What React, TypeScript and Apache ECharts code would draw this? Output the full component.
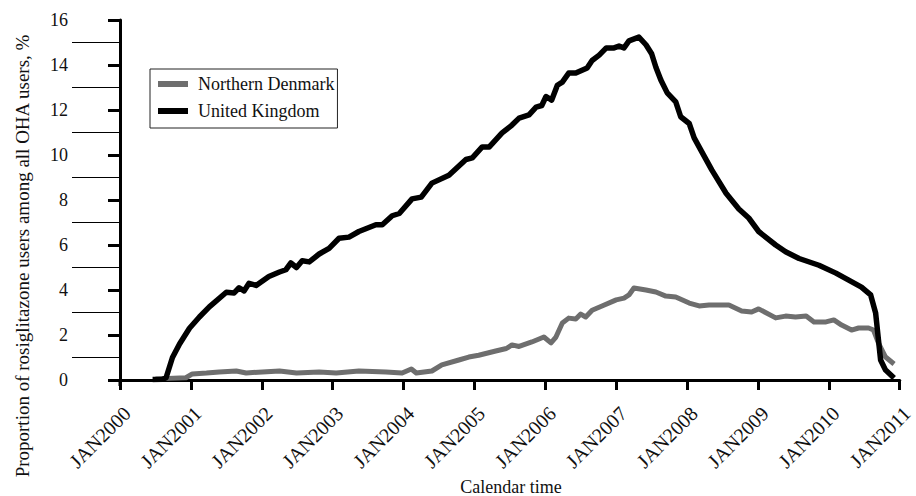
import React, { useEffect, useRef } from "react";
import * as echarts from "echarts";

const seriesNames = ["Northern Denmark", "United Kingdom"];

// [decimal year, % of OHA users]
const denmark: [number, number][] = [
  [2000.5, 0.05], [2000.93, 0.1], [2001.02, 0.27], [2001.22, 0.31], [2001.4, 0.36],
  [2001.64, 0.4], [2001.78, 0.31], [2002.01, 0.36], [2002.25, 0.4], [2002.49, 0.31],
  [2002.81, 0.36], [2003.05, 0.31], [2003.37, 0.4], [2003.75, 0.36], [2003.98, 0.31],
  [2004.11, 0.49], [2004.18, 0.31], [2004.4, 0.4], [2004.54, 0.67], [2004.78, 0.89],
  [2004.92, 1.02], [2005.06, 1.1], [2005.3, 1.29], [2005.45, 1.4], [2005.53, 1.56],
  [2005.63, 1.49], [2005.81, 1.69], [2005.98, 1.91], [2006.08, 1.65], [2006.15, 1.91],
  [2006.24, 2.53], [2006.33, 2.75], [2006.43, 2.71], [2006.5, 2.93], [2006.57, 2.8],
  [2006.66, 3.1], [2006.8, 3.29], [2007.0, 3.56], [2007.11, 3.64], [2007.18, 3.78],
  [2007.25, 4.09], [2007.42, 4.0], [2007.56, 3.91], [2007.7, 3.73], [2007.84, 3.69],
  [2008.03, 3.42], [2008.17, 3.29], [2008.31, 3.33], [2008.59, 3.33], [2008.77, 3.07],
  [2008.91, 3.02], [2009.01, 3.16], [2009.25, 2.76], [2009.39, 2.84], [2009.53, 2.8],
  [2009.68, 2.84], [2009.79, 2.58], [2009.96, 2.58], [2010.07, 2.67], [2010.18, 2.44],
  [2010.32, 2.22], [2010.42, 2.31], [2010.56, 2.31], [2010.63, 2.22], [2010.7, 1.64],
  [2010.8, 1.02], [2010.92, 0.71],
];

const uk: [number, number][] = [
  [2000.46, 0.02], [2000.6, 0.03], [2000.65, 0.1], [2000.74, 1.0], [2000.84, 1.6],
  [2000.98, 2.3], [2001.12, 2.8], [2001.26, 3.25], [2001.5, 3.9], [2001.61, 3.87],
  [2001.68, 4.1], [2001.75, 3.96], [2001.82, 4.3], [2001.92, 4.2], [2002.1, 4.6],
  [2002.25, 4.8], [2002.34, 4.9], [2002.41, 5.2], [2002.49, 5.0], [2002.57, 5.3],
  [2002.67, 5.25], [2002.81, 5.6], [2002.95, 5.85], [2003.09, 6.3], [2003.23, 6.35],
  [2003.37, 6.6], [2003.61, 6.9], [2003.7, 6.9], [2003.84, 7.3], [2003.94, 7.4],
  [2004.12, 8.05], [2004.25, 8.13], [2004.4, 8.75], [2004.64, 9.1], [2004.88, 9.8],
  [2004.97, 9.87], [2005.11, 10.36], [2005.21, 10.36], [2005.39, 10.98], [2005.53, 11.33],
  [2005.63, 11.64], [2005.77, 11.78], [2005.87, 12.13], [2005.95, 12.2], [2006.01, 12.6],
  [2006.09, 12.44], [2006.17, 13.1], [2006.24, 13.24], [2006.33, 13.64], [2006.43, 13.64],
  [2006.59, 13.87], [2006.66, 14.2], [2006.76, 14.44], [2006.86, 14.76], [2006.97, 14.76],
  [2007.04, 14.84], [2007.11, 14.76], [2007.18, 15.07], [2007.32, 15.24], [2007.42, 14.9],
  [2007.5, 14.5], [2007.56, 13.9], [2007.63, 13.33], [2007.72, 12.76], [2007.84, 12.36],
  [2007.91, 11.7], [2008.03, 11.4], [2008.1, 10.76], [2008.21, 10.13], [2008.35, 9.33],
  [2008.55, 8.3], [2008.73, 7.6], [2008.87, 7.2], [2009.01, 6.6], [2009.25, 6.0],
  [2009.39, 5.7], [2009.58, 5.4], [2009.86, 5.1], [2010.1, 4.75], [2010.28, 4.44],
  [2010.46, 4.13], [2010.59, 3.78], [2010.66, 2.98], [2010.7, 1.78], [2010.73, 0.89],
  [2010.8, 0.44], [2010.92, 0.09],
];

const xMin = 2000;
const xMax = 2011;
const yMin = 0;
const yMax = 16;
const yTitle = "Proportion of rosiglitazone users among all OHA users, %";
const xTitle = "Calendar time";

const FONT = "'Liberation Serif', 'Times New Roman', serif";

export default function App() {
  const ref = useRef<HTMLDivElement>(null);
  useEffect(() => {
    if (!ref.current) return;
    const chart = echarts.init(ref.current, null, { renderer: "svg" });
    chart.setOption({
      animation: false,
      backgroundColor: "#fff",
      textStyle: { fontFamily: FONT },
      grid: { left: 120, right: 15, top: 20, bottom: 116 },
      legend: {
        orient: "vertical",
        left: 150,
        top: 69,
        data: seriesNames,
        icon: "rect",
        itemWidth: 30,
        itemHeight: 6,
        itemGap: 9,
        padding: [6, 3, 8, 8],
        borderColor: "#222",
        borderWidth: 1,
        textStyle: { fontFamily: FONT, fontSize: 18, color: "#111", padding: [0, 0, 0, 5] },
      },
      xAxis: {
        type: "value",
        min: xMin,
        max: xMax,
        interval: 1,
        offset: 5,
        axisLine: { show: true, lineStyle: { color: "#000", width: 3 } },
        axisTick: { show: true, length: 10, lineStyle: { color: "#000", width: 3 } },
        splitLine: { show: false },
        axisLabel: {
          rotate: 45,
          margin: 18,
          verticalAlign: "top",
          fontFamily: FONT,
          fontSize: 20,
          color: "#111",
          formatter: (v: number) => "JAN" + v,
        },
      },
      yAxis: {
        type: "value",
        min: yMin,
        max: yMax,
        interval: 2,
        axisLine: { show: true, lineStyle: { color: "#000", width: 3 } },
        axisTick: { show: true, length: 12, lineStyle: { color: "#000", width: 3 } },
        minorTick: { show: true, splitNumber: 2, length: 48, lineStyle: { color: "#000", width: 1 } },
        splitLine: { show: false },
        axisLabel: { margin: 52, fontFamily: FONT, fontSize: 18, color: "#111" },
      },
      graphic: [
        { type: "rect", shape: { x: 118.5, y: 379, width: 3, height: 7 }, style: { fill: "#000" } },
        {
          type: "text",
          x: 22,
          y: 256,
          rotation: Math.PI / 2,
          style: {
            text: yTitle,
            fontFamily: FONT,
            fontSize: 19,
            fill: "#111",
            align: "center",
            verticalAlign: "middle",
          },
        },
        {
          type: "text",
          x: 511,
          y: 487,
          style: {
            text: xTitle,
            fontFamily: FONT,
            fontSize: 18,
            fill: "#111",
            align: "center",
            verticalAlign: "middle",
          },
        },
      ],
      series: [
        {
          name: seriesNames[0],
          type: "line",
          data: denmark,
          showSymbol: false,
          lineStyle: { color: "#6e6e6e", width: 5, join: "round" },
          itemStyle: { color: "#6e6e6e" },
        },
        {
          name: seriesNames[1],
          type: "line",
          data: uk,
          showSymbol: false,
          lineStyle: { color: "#000", width: 5.5, join: "round" },
          itemStyle: { color: "#000" },
        },
      ],
    });
    return () => chart.dispose();
  }, []);
  return (
    <div
      ref={ref}
      style={{ position: "fixed", left: 0, top: 0, width: 916, height: 496 }}
    />
  );
}
